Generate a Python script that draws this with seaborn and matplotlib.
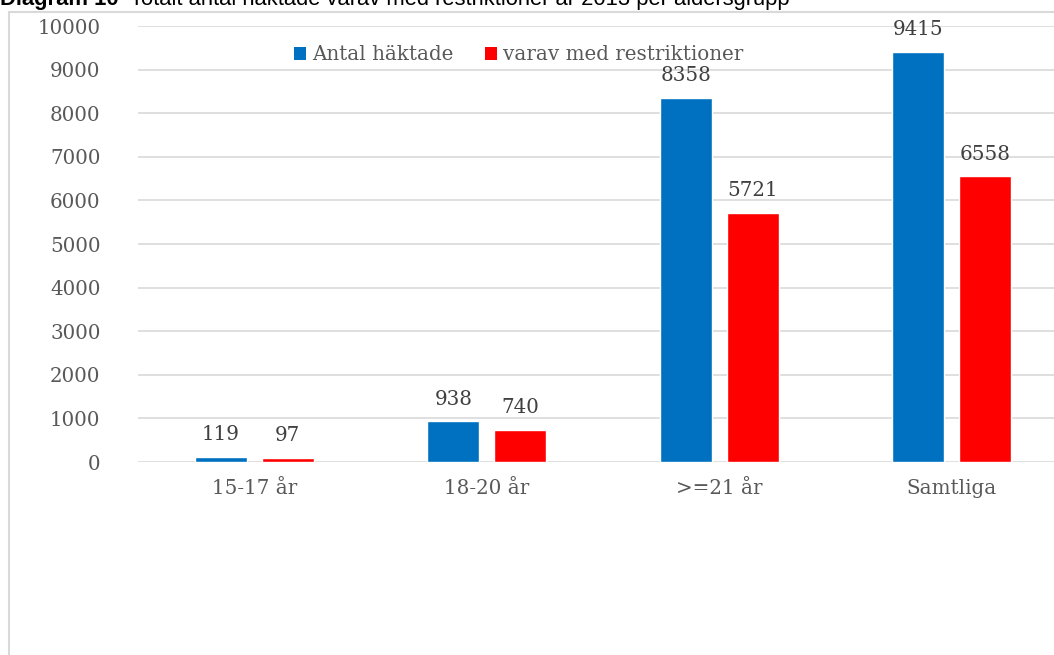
import matplotlib
matplotlib.use("Agg")
import matplotlib.pyplot as plt
import seaborn as sns
import pandas as pd
from matplotlib.lines import Line2D
from matplotlib.patches import Patch

categories = ["15-17 år", "18-20 år", ">=21 år", "Samtliga"]
series_names = ["Antal häktade", "varav med restriktioner"]
antal_haktade = [119, 938, 8358, 9415]
med_restriktioner = [97, 740, 5721, 6558]
yticks = [0, 1000, 2000, 3000, 4000, 5000, 6000, 7000, 8000, 9000, 10000]
colors = ["#0070C0", "#FF0000"]
title_bold = "Diagram 10"
title_rest = "Totalt antal häktade varav med restriktioner år 2013 per åldersgrupp"

df = pd.DataFrame({
    "grupp": categories * 2,
    "serie": [series_names[0]] * len(categories) + [series_names[1]] * len(categories),
    "värde": antal_haktade + med_restriktioner,
})

sns.set_theme(style="white")
plt.rcParams['font.family'] = ['DejaVu Serif']

W, H = 1054, 655
fig = plt.figure(figsize=(W / 100, H / 100), dpi=100)
ax = fig.add_axes([138 / W, (H - 462) / H, (1068 - 138) / W, (462 - 26) / H])

sns.barplot(data=df, x="grupp", y="värde", hue="serie", palette=colors,
            width=0.576, gap=0.222, saturation=1, errorbar=None,
            legend=False, ax=ax)

fs = 14.3
for cont in ax.containers:
    ax.bar_label(cont, padding=9, fontsize=fs, color="#404040")

ax.set_ylim(0, 10000)
ax.set_yticks(yticks)
ax.set_yticklabels([str(v) for v in yticks])
ax.set_xlabel("")
ax.set_ylabel("")
for s in ax.spines.values():
    s.set_visible(False)
ax.yaxis.grid(True, color="#d9d9d9", lw=1.2)
ax.set_axisbelow(True)
ax.tick_params(axis="y", length=0, pad=27, labelsize=fs, labelcolor="#595959")
ax.tick_params(axis="x", length=0, pad=12, labelsize=fs, labelcolor="#595959")

handles = [Patch(facecolor=c, edgecolor="none") for c in colors]
ax.legend(handles, series_names, loc="center", bbox_to_anchor=(519 / W, 1 - 55 / H),
          bbox_transform=fig.transFigure, ncol=2, frameon=False, fontsize=fs,
          handlelength=0.6, handleheight=0.6, handletextpad=0.3,
          columnspacing=1.6, labelcolor="#595959")

# outer frame lines
fig.add_artist(Line2D([8.5 / W, 8.5 / W], [0, 1 - 11.5 / H], transform=fig.transFigure,
                      color="#d9d9d9", lw=1.5))
fig.add_artist(Line2D([8.5 / W, 1], [1 - 11.5 / H, 1 - 11.5 / H], transform=fig.transFigure,
                      color="#d9d9d9", lw=1.5))

# title is clipped at the top edge, as in the reference
fig.text(0, 1 - 5 / H, title_bold, fontsize=15.8, fontweight="bold",
         family=["Liberation Sans", "DejaVu Sans"], va="baseline", ha="left", color="#000000")
fig.text(130 / W, 1 - 5 / H, title_rest, fontsize=15.8,
         family=["Liberation Sans", "DejaVu Sans"], va="baseline", ha="left", color="#000000")

fig.savefig("out.png", dpi=100)
